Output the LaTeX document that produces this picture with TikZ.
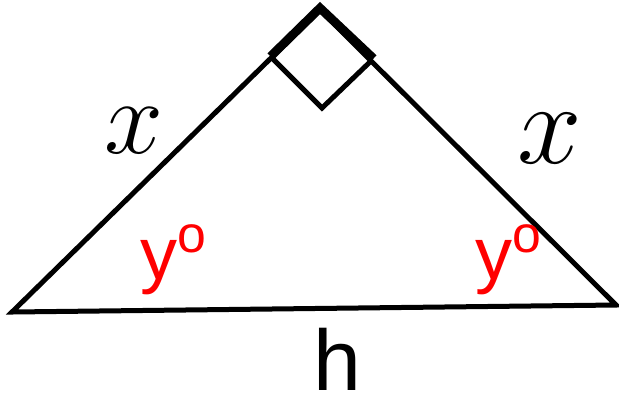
\RequirePackage{fix-cm}
\documentclass[tikz,border=0pt]{standalone}
\usepackage{fontspec}
\setmainfont{Liberation Serif}
\setsansfont{Liberation Sans}
\usetikzlibrary{positioning}
\definecolor{anglered}{RGB}{255,0,0}

\begin{document}
\begin{tikzpicture}[x=0.5pt, y=-0.5pt,
        side/.style={line width=2.5pt, line join=miter},
        rightmark/.style={line width=4.4pt},
        sidelabel/.style={anchor=base, inner sep=0pt, font=\fontsize{53}{56}\selectfont},
        anglelabel/.style={anchor=base west, inner sep=0pt, text=anglered, font=\sffamily\fontsize{37}{40}\selectfont},
        baselabel/.style={anchor=base, inner sep=0pt, text depth=0pt, font=\sffamily\fontsize{43}{46}\selectfont}
    ]
        \useasboundingbox (0,0) rectangle (619,398);

        % Corners
        \coordinate (L) at (12,312);
        \coordinate (R) at (616,305);
        \coordinate (A) at (320,10);
        \coordinate (SL) at (272,58);
        \coordinate (SB) at (322,108);
        \coordinate (SR) at (372,60);

        % Triangle
        \draw[side] (L) -- (A) -- (R) -- cycle;

        % Right angle
        \draw[side] (SL) -- (SB) -- (SR);
        \draw[rightmark] ([shift={(-1.5,-1.5)}]SL) -- ([shift={(0,-2)}]A) -- ([shift={(1.5,-1.5)}]SR);

        % Labels
        \node[sidelabel] (xleft) at (134,153) {$x$};
        \node[sidelabel, font=\fontsize{58}{62}\selectfont] (xright) at (550,163) {$x$};
        \node[anglelabel] (yleft) at (140,279) {y\textsuperscript{o}};
        \node[anglelabel] (yright) at (475,279) {y\textsuperscript{o}};
        \node[baselabel] (h) at (337,390) {h};
    \end{tikzpicture}
\end{document}
